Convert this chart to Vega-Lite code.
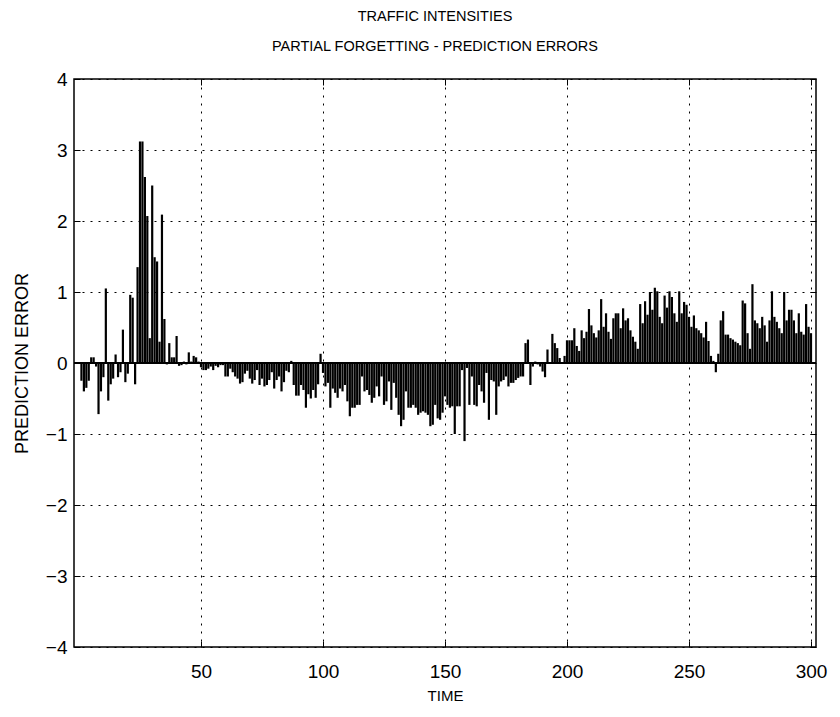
{
  "$schema": "https://vega.github.io/schema/vega-lite/v6.json",
  "width": 742,
  "height": 568,
  "autosize": {"type": "none"},
  "padding": {"left": 74, "top": 79, "right": 24, "bottom": 70},
  "background": "white",
  "title": {
    "text": ["TRAFFIC INTENSITIES", "PARTIAL FORGETTING - PREDICTION ERRORS"],
    "font": "Liberation Sans",
    "fontSize": 14.5,
    "fontWeight": "normal",
    "color": "black",
    "lineHeight": 30,
    "offset": 16,
    "dx": -10,
    "anchor": "middle"
  },
  "config": {
    "view": {"stroke": "black", "strokeWidth": 1.5},
    "axis": {
      "domain": false,
      "labelFont": "Liberation Sans",
      "labelFontSize": 19,
      "labelColor": "black",
      "titleFont": "Liberation Sans",
      "titleFontSize": 15,
      "titleFontWeight": "normal",
      "titleColor": "black",
      "tickColor": "black",
      "tickSize": -6,
      "tickWidth": 1,
      "gridColor": "black",
      "gridDash": [2, 6],
      "gridWidth": 1,
      "gridOpacity": 1
    }
  },
  "data": {
    "values": [
      {"t":1,"e":-0.25},{"t":2,"e":-0.4},{"t":3,"e":-0.35},{"t":4,"e":-0.25},{"t":5,"e":0.08},{"t":6,"e":0.08},{"t":7,"e":-0.05},{"t":8,"e":-0.72},{"t":9,"e":-0.4},{"t":10,"e":-0.2},
      {"t":11,"e":1.05},{"t":12,"e":-0.53},{"t":13,"e":-0.3},{"t":14,"e":-0.22},{"t":15,"e":0.12},{"t":16,"e":-0.2},{"t":17,"e":-0.13},{"t":18,"e":0.47},{"t":19,"e":-0.27},{"t":20,"e":-0.15},
      {"t":21,"e":0.96},{"t":22,"e":0.92},{"t":23,"e":-0.3},{"t":24,"e":1.35},{"t":25,"e":3.12},{"t":26,"e":3.12},{"t":27,"e":2.62},{"t":28,"e":2.07},{"t":29,"e":0.35},{"t":30,"e":2.5},
      {"t":31,"e":1.49},{"t":32,"e":1.43},{"t":33,"e":0.3},{"t":34,"e":2.09},{"t":35,"e":0.62},{"t":36,"e":-0.02},{"t":37,"e":0.28},{"t":38,"e":0.08},{"t":39,"e":0.08},{"t":40,"e":0.38},
      {"t":41,"e":-0.04},{"t":42,"e":-0.03},{"t":43,"e":0.02},{"t":44,"e":-0.02},{"t":45,"e":0.15},{"t":46,"e":0.02},{"t":47,"e":0.1},{"t":48,"e":0.08},{"t":49,"e":0.02},{"t":50,"e":-0.06},
      {"t":51,"e":-0.1},{"t":52,"e":-0.1},{"t":53,"e":-0.08},{"t":54,"e":-0.05},{"t":55,"e":-0.1},{"t":56,"e":-0.04},{"t":57,"e":-0.06},{"t":58,"e":-0.03},{"t":59,"e":-0.03},{"t":60,"e":-0.19},
      {"t":61,"e":-0.19},{"t":62,"e":-0.08},{"t":63,"e":-0.13},{"t":64,"e":-0.19},{"t":65,"e":-0.22},{"t":66,"e":-0.29},{"t":67,"e":-0.27},{"t":68,"e":-0.15},{"t":69,"e":-0.11},{"t":70,"e":-0.22},
      {"t":71,"e":-0.29},{"t":72,"e":-0.24},{"t":73,"e":-0.1},{"t":74,"e":-0.31},{"t":75,"e":-0.22},{"t":76,"e":-0.33},{"t":77,"e":-0.31},{"t":78,"e":-0.24},{"t":79,"e":-0.13},{"t":80,"e":-0.36},
      {"t":81,"e":-0.24},{"t":82,"e":-0.19},{"t":83,"e":-0.4},{"t":84,"e":-0.27},{"t":85,"e":-0.11},{"t":86,"e":-0.13},{"t":87,"e":0.03},{"t":88,"e":-0.31},{"t":89,"e":-0.46},{"t":90,"e":-0.46},
      {"t":91,"e":-0.31},{"t":92,"e":-0.38},{"t":93,"e":-0.63},{"t":94,"e":-0.44},{"t":95,"e":-0.5},{"t":96,"e":-0.38},{"t":97,"e":-0.49},{"t":98,"e":-0.3},{"t":99,"e":0.13},{"t":100,"e":-0.14},
      {"t":101,"e":-0.33},{"t":102,"e":-0.28},{"t":103,"e":-0.63},{"t":104,"e":-0.36},{"t":105,"e":-0.42},{"t":106,"e":-0.49},{"t":107,"e":-0.36},{"t":108,"e":-0.4},{"t":109,"e":-0.31},{"t":110,"e":-0.54},
      {"t":111,"e":-0.75},{"t":112,"e":-0.63},{"t":113,"e":-0.63},{"t":114,"e":-0.59},{"t":115,"e":-0.59},{"t":116,"e":-0.19},{"t":117,"e":-0.4},{"t":118,"e":-0.38},{"t":119,"e":-0.45},{"t":120,"e":-0.56},
      {"t":121,"e":-0.49},{"t":122,"e":-0.33},{"t":123,"e":-0.47},{"t":124,"e":-0.19},{"t":125,"e":-0.59},{"t":126,"e":-0.54},{"t":127,"e":-0.26},{"t":128,"e":-0.66},{"t":129,"e":-0.28},{"t":130,"e":-0.49},
      {"t":131,"e":-0.73},{"t":132,"e":-0.89},{"t":133,"e":-0.8},{"t":134,"e":-0.4},{"t":135,"e":-0.63},{"t":136,"e":-0.63},{"t":137,"e":-0.59},{"t":138,"e":-0.63},{"t":139,"e":-0.73},{"t":140,"e":-0.7},
      {"t":141,"e":-0.68},{"t":142,"e":-0.7},{"t":143,"e":-0.73},{"t":144,"e":-0.89},{"t":145,"e":-0.87},{"t":146,"e":-0.59},{"t":147,"e":-0.78},{"t":148,"e":-0.8},{"t":149,"e":-0.7},{"t":150,"e":-0.47},
      {"t":151,"e":-0.59},{"t":152,"e":-0.63},{"t":153,"e":-0.61},{"t":154,"e":-1.0},{"t":155,"e":-0.61},{"t":156,"e":-0.61},{"t":157,"e":-0.1},{"t":158,"e":-1.1},{"t":159,"e":-0.07},{"t":160,"e":-0.59},
      {"t":161,"e":-0.19},{"t":162,"e":-0.59},{"t":163,"e":-0.61},{"t":164,"e":-0.31},{"t":165,"e":-0.4},{"t":166,"e":-0.56},{"t":167,"e":-0.14},{"t":168,"e":-0.8},{"t":169,"e":-0.24},{"t":170,"e":-0.26},
      {"t":171,"e":-0.73},{"t":172,"e":-0.33},{"t":173,"e":-0.26},{"t":174,"e":-0.24},{"t":175,"e":-0.19},{"t":176,"e":-0.33},{"t":177,"e":-0.28},{"t":178,"e":-0.28},{"t":179,"e":-0.24},{"t":180,"e":-0.21},
      {"t":181,"e":-0.19},{"t":182,"e":-0.19},{"t":183,"e":0.28},{"t":184,"e":0.33},{"t":185,"e":-0.31},{"t":186,"e":-0.05},{"t":187,"e":0.02},{"t":188,"e":-0.02},{"t":189,"e":-0.05},{"t":190,"e":-0.12},
      {"t":191,"e":-0.2},{"t":192,"e":0.19},{"t":193,"e":0.01},{"t":194,"e":0.41},{"t":195,"e":0.28},{"t":196,"e":0.21},{"t":197,"e":0.07},{"t":198,"e":0.01},{"t":199,"e":0.1},
      {"t":200,"e":0.32},{"t":201,"e":0.32},{"t":202,"e":0.32},{"t":203,"e":0.49},{"t":204,"e":0.24},{"t":205,"e":0.17},{"t":206,"e":0.46},{"t":207,"e":0.35},{"t":208,"e":0.44},{"t":209,"e":0.76},
      {"t":210,"e":0.53},{"t":211,"e":0.42},{"t":212,"e":0.36},{"t":213,"e":0.46},{"t":214,"e":0.9},{"t":215,"e":0.51},{"t":216,"e":0.7},{"t":217,"e":0.44},{"t":218,"e":0.34},{"t":219,"e":0.63},
      {"t":220,"e":0.7},{"t":221,"e":0.7},{"t":222,"e":0.49},{"t":223,"e":0.77},{"t":224,"e":0.6},{"t":225,"e":0.63},{"t":226,"e":0.46},{"t":227,"e":0.37},{"t":228,"e":0.3},{"t":229,"e":0.2},
      {"t":230,"e":0.83},{"t":231,"e":0.56},{"t":232,"e":0.87},{"t":233,"e":0.68},{"t":234,"e":1.0},{"t":235,"e":0.75},{"t":236,"e":1.06},{"t":237,"e":1.01},{"t":238,"e":0.65},{"t":239,"e":0.56},
      {"t":240,"e":0.95},{"t":241,"e":0.78},{"t":242,"e":1.01},{"t":243,"e":0.93},{"t":244,"e":0.7},{"t":245,"e":0.58},{"t":246,"e":1.01},{"t":247,"e":0.7},{"t":248,"e":0.86},{"t":249,"e":0.82},
      {"t":250,"e":0.65},{"t":251,"e":0.51},{"t":252,"e":0.67},{"t":253,"e":0.49},{"t":254,"e":0.46},{"t":255,"e":0.42},{"t":256,"e":0.36},{"t":257,"e":0.58},{"t":258,"e":0.31},{"t":259,"e":0.1},
      {"t":260,"e":0.03},{"t":261,"e":-0.13},{"t":262,"e":0.13},{"t":263,"e":0.6},{"t":264,"e":0.73},{"t":265,"e":0.4},{"t":266,"e":0.4},{"t":267,"e":0.35},{"t":268,"e":0.33},{"t":269,"e":0.3},
      {"t":270,"e":0.28},{"t":271,"e":0.25},{"t":272,"e":0.88},{"t":273,"e":0.84},{"t":274,"e":0.42},{"t":275,"e":0.2},{"t":276,"e":1.11},{"t":277,"e":0.6},{"t":278,"e":0.56},{"t":279,"e":0.49},
      {"t":280,"e":0.65},{"t":281,"e":0.53},{"t":282,"e":0.3},{"t":283,"e":0.6},{"t":284,"e":1.01},{"t":285,"e":0.65},{"t":286,"e":0.58},{"t":287,"e":0.49},{"t":288,"e":0.42},{"t":289,"e":1.0},
      {"t":290,"e":0.6},{"t":291,"e":0.75},{"t":292,"e":0.75},{"t":293,"e":0.6},{"t":294,"e":0.42},{"t":295,"e":0.7},{"t":296,"e":0.44},{"t":297,"e":0.4},{"t":298,"e":0.83},{"t":299,"e":0.51},{"t":300,"e":0.42}
    ]
  },
  "resolve": {"axis": {"x": "independent", "y": "independent"}},
  "layer": [
    {
      "mark": {"type": "bar", "color": "black", "size": 2.2},
      "encoding": {
        "x": {
          "field": "t", "type": "quantitative",
          "scale": {"domain": [0, 300], "nice": false, "zero": false},
          "axis": {"orient": "bottom", "values": [50, 100, 150, 200, 250, 300], "grid": true, "title": "TIME", "labelPadding": 21, "titlePadding": 7}
        },
        "y": {
          "field": "e", "type": "quantitative",
          "scale": {"domain": [-4, 4], "nice": false},
          "axis": {"orient": "left", "values": [-4, -3, -2, -1, 0, 1, 2, 3, 4], "grid": true, "title": "PREDICTION ERROR", "titleFontSize": 18, "labelPadding": 13, "titlePadding": 14}
        }
      }
    },
    {
      "mark": {"type": "rule", "color": "black", "strokeWidth": 1.5},
      "encoding": {
        "y": {"datum": 0, "axis": {"orient": "right", "values": [-4, -3, -2, -1, 0, 1, 2, 3, 4], "labels": false, "grid": false, "title": null}}
      }
    },
    {
      "mark": {"type": "rule", "color": "black", "strokeOpacity": 0},
      "encoding": {
        "x": {"datum": 300, "axis": {"orient": "top", "values": [50, 100, 150, 200, 250, 300], "labels": false, "grid": false, "title": null}}
      }
    }
  ]
}
